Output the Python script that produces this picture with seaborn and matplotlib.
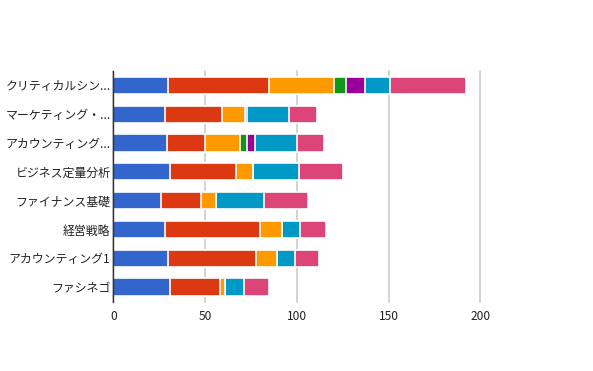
import pandas as pd
import seaborn as sns
import matplotlib.pyplot as plt
import numpy as np

courses = ["クリティカルシン...", "マーケティング・...", "アカウンティング...", "ビジネス定量分析",
           "ファイナンス基礎", "経営戦略", "アカウンティング1", "ファシネゴ"]

# seven stacked series
s1 = [30, 28, 29, 31, 26, 28, 30, 31]
s2 = [55, 31, 21, 36, 22, 52, 48, 27]
s3 = [35, 13, 19, 9, 8, 12, 11, 3]
s4 = [7, 0, 4, 0, 0, 0, 0, 0]
s5 = [10, 1, 4, 0, 0, 0, 0, 0]
s6 = [14, 23, 23, 25, 26, 10, 10, 10]
s7 = [41, 15, 15, 24, 24, 14, 13, 14]

series = [s1, s2, s3, s4, s5, s6, s7]
colors = ["#3366cc", "#dc3912", "#ff9900", "#109618", "#990099", "#0099c6", "#dd4477"]

sns.set_style("white")
plt.rcParams['font.family'] = ['Noto Sans CJK JP', 'DejaVu Sans']

fig = plt.figure(figsize=(5.93, 3.71), dpi=100)
ax = fig.add_axes([113.3 / 593, 1 - 301.5 / 371, 367 / 593, 230.5 / 371])

cum = np.cumsum(np.array(series), axis=0)
# draw cumulative totals from the longest down so each segment shows
for i in range(len(series) - 1, -1, -1):
    df = pd.DataFrame({"course": courses, "total": cum[i]})
    sns.barplot(data=df, x="total", y="course", orient="h", color=colors[i],
                saturation=1, width=0.6, edgecolor="white", linewidth=1.2, ax=ax)

ax.set_xlim(0, 200)
ax.set_ylim(7.5, -0.5)
ax.set_xticks([0, 50, 100, 150, 200])
ax.xaxis.grid(True, color="#cccccc", linewidth=1.2)
for gl in ax.get_xgridlines():
    gl.set_clip_on(False)
ax.set_axisbelow(True)
ax.set_xlabel("")
ax.set_ylabel("")
for s in ["top", "right", "bottom"]:
    ax.spines[s].set_visible(False)
ax.spines["left"].set_color("#333333")
ax.spines["left"].set_linewidth(1)
ax.tick_params(axis="both", length=0, labelsize=8.6, colors="#222222")
ax.tick_params(axis="y", pad=2)
ax.tick_params(axis="x", pad=6)

fig.savefig("out.png", dpi=100)
